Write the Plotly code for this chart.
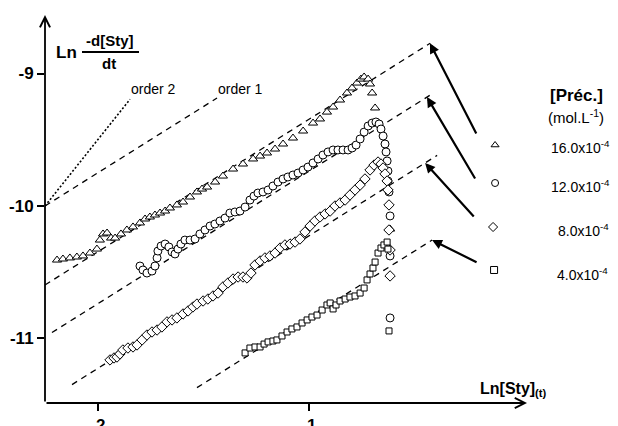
import plotly.graph_objects as go

# ---------------- data ----------------
# 16.0e-4 mol/L  (triangles)
tri_x = [-2.194, -2.166, -2.133, -2.100, -2.071, -2.038, -2.005, -1.991, -1.976, -1.957,
         -1.938, -1.919, -1.891, -1.863, -1.834, -1.801, -1.777, -1.754, -1.730, -1.706,
         -1.682, -1.659, -1.626, -1.597, -1.564, -1.531, -1.507, -1.483, -1.445, -1.408,
         -1.360, -1.313, -1.265, -1.232, -1.199, -1.161, -1.123, -1.076, -1.028, -0.981,
         -0.948, -0.915, -0.886, -0.853, -0.820, -0.796, -0.773, -0.754, -0.739, -0.720,
         -0.711, -0.701, -0.687, -0.616]
tri_y = [-10.408, -10.400, -10.392, -10.385, -10.377, -10.355, -10.325, -10.257, -10.211, -10.204,
         -10.242, -10.242, -10.211, -10.181, -10.158, -10.128, -10.098, -10.083, -10.068, -10.053,
         -10.038, -10.015, -9.992, -9.970, -9.932, -9.894, -9.872, -9.857, -9.819, -9.774,
         -9.721, -9.683, -9.645, -9.623, -9.600, -9.570, -9.532, -9.487, -9.434, -9.374,
         -9.343, -9.291, -9.253, -9.200, -9.147, -9.109, -9.072, -9.042, -9.026, -9.042,
         -9.079, -9.147, -9.260, -10.174]

# 12.0e-4 mol/L  (circles)
cir_x = [-1.801, -1.787, -1.768, -1.744, -1.730, -1.720, -1.716, -1.701, -1.682, -1.664,
         -1.649, -1.635, -1.621, -1.607, -1.588, -1.564, -1.540, -1.517, -1.493, -1.469,
         -1.446, -1.422, -1.398, -1.375, -1.351, -1.327, -1.303, -1.280, -1.261, -1.242,
         -1.218, -1.194, -1.171, -1.147, -1.123, -1.100, -1.076, -1.052, -1.028, -1.005,
         -0.981, -0.957, -0.934, -0.910, -0.886, -0.863, -0.839, -0.815, -0.796, -0.777,
         -0.758, -0.739, -0.720, -0.701, -0.683, -0.668, -0.659, -0.649, -0.640, -0.635,
         -0.630, -0.626, -0.626, -0.621, -0.616, -0.616, -0.616]
cir_y = [-10.453, -10.483, -10.506, -10.491, -10.453, -10.392, -10.340, -10.302, -10.287, -10.309,
         -10.347, -10.362, -10.325, -10.287, -10.257, -10.257, -10.249, -10.211, -10.181, -10.151,
         -10.136, -10.113, -10.091, -10.053, -10.045, -10.038, -10.008, -9.955, -9.925, -9.902,
         -9.894, -9.879, -9.849, -9.819, -9.796, -9.781, -9.766, -9.751, -9.728, -9.706,
         -9.675, -9.645, -9.615, -9.592, -9.577, -9.577, -9.577, -9.577, -9.562, -9.540,
         -9.494, -9.442, -9.396, -9.374, -9.366, -9.381, -9.419, -9.472, -9.532, -9.592,
         -9.660, -9.736, -9.811, -9.894, -10.075, -10.377, -10.845]

# 8.0e-4 mol/L  (diamonds)
dia_x = [-1.943, -1.924, -1.910, -1.896, -1.882, -1.858, -1.834, -1.815, -1.791, -1.768,
         -1.744, -1.720, -1.697, -1.673, -1.649, -1.626, -1.597, -1.573, -1.550, -1.531,
         -1.502, -1.479, -1.455, -1.431, -1.408, -1.384, -1.360, -1.336, -1.313, -1.294,
         -1.275, -1.256, -1.232, -1.209, -1.185, -1.161, -1.137, -1.114, -1.090, -1.066,
         -1.043, -1.019, -0.995, -0.972, -0.948, -0.924, -0.900, -0.877, -0.853, -0.829,
         -0.806, -0.782, -0.758, -0.735, -0.711, -0.692, -0.673, -0.659, -0.649, -0.640,
         -0.630, -0.626, -0.621, -0.621, -0.616, -0.616]
dia_y = [-11.162, -11.147, -11.140, -11.117, -11.087, -11.072, -11.064, -11.049, -11.011, -10.974,
         -10.951, -10.936, -10.913, -10.875, -10.860, -10.845, -10.815, -10.792, -10.762, -10.740,
         -10.717, -10.702, -10.679, -10.657, -10.611, -10.581, -10.551, -10.536, -10.536, -10.543,
         -10.506, -10.445, -10.415, -10.392, -10.377, -10.355, -10.317, -10.294, -10.287, -10.272,
         -10.249, -10.196, -10.151, -10.113, -10.083, -10.060, -10.038, -10.000, -9.977, -9.955,
         -9.917, -9.879, -9.842, -9.796, -9.728, -9.691, -9.668, -9.683, -9.713, -9.758,
         -9.811, -9.879, -9.992, -10.181, -10.332, -10.528]

# 4.0e-4 mol/L  (squares)
sq_x = [-1.303, -1.280, -1.256, -1.232, -1.213, -1.194, -1.171, -1.152, -1.128, -1.104,
        -1.081, -1.057, -1.033, -1.009, -0.986, -0.962, -0.938, -0.915, -0.900, -0.886,
        -0.872, -0.853, -0.829, -0.806, -0.782, -0.758, -0.739, -0.725, -0.711, -0.697,
        -0.687, -0.673, -0.659, -0.645, -0.630, -0.626, -0.621]
sq_y = [-11.109, -11.072, -11.064, -11.064, -11.042, -11.026, -11.019, -11.011, -10.981, -10.951,
        -10.928, -10.913, -10.883, -10.860, -10.838, -10.823, -10.785, -10.747, -10.732, -10.777,
        -10.747, -10.717, -10.702, -10.687, -10.679, -10.657, -10.619, -10.558, -10.513, -10.468,
        -10.423, -10.355, -10.317, -10.294, -10.272, -10.325, -10.943]

# slope-1 fits for each concentration (x start, x end, intercept)
fit_x0 = [-2.251, -2.218, -2.123, -1.531]
fit_x1 = [-0.426, -0.412, -0.393, -0.417]
fit_c = [-8.345, -8.737, -9.225, -9.840]

# reference order lines from (-2.251, -10)
order_x0 = -2.251
order_y0 = -10.0
order1_x1 = -1.436
order2_x1 = -1.848

# arrow tails (pointing at the ends of the fit lines)
arrow_tail_x = [-0.204, -0.209, -0.213, -0.199]
arrow_tail_y = [-9.464, -9.804, -10.091, -10.430]
arrow_head_x = [-0.427, -0.441, -0.450, -0.417]

conc_labels = ["16.0", "12.0", "8.0", "4.0"]
x_ticks = [-2, -1]
x_ticktext = ["-2", "-1"]
y_ticks = [-9, -10, -11]
y_ticktext = ["-9", "-10", "-11"]

# ---------------- figure ----------------
W, H = 618, 426
ML, MB = 45, 23
PW, PH = W - ML, H - MB
FONT = "Liberation Sans, Arial, sans-serif"


def P(px, py):
    return (px - ML) / PW, (PH - py) / PH


fig = go.Figure()

for x0, x1, c in zip(fit_x0, fit_x1, fit_c):
    fig.add_trace(go.Scatter(x=[x0, x1], y=[x0 + c, x1 + c], mode="lines",
                             line=dict(color="black", width=1.3, dash="6px,5px"),
                             hoverinfo="skip", cliponaxis=False))

fig.add_trace(go.Scatter(x=[order_x0, order1_x1],
                         y=[order_y0, order_y0 + (order1_x1 - order_x0)], cliponaxis=False,
                         mode="lines", line=dict(color="black", width=1.3, dash="6px,5px")))
fig.add_trace(go.Scatter(x=[order_x0, order2_x1],
                         y=[order_y0, order_y0 + 2 * (order2_x1 - order_x0)], cliponaxis=False,
                         mode="lines", line=dict(color="black", width=1.6, dash="2px,2px")))

series = [
    (tri_x, tri_y, "triangle-up", 8),
    (cir_x, cir_y, "circle", 8),
    (dia_x, dia_y, "diamond", 8),
    (sq_x, sq_y, "square", 6),
]
for xs, ys, sym, sz in series:
    fig.add_trace(go.Scatter(x=xs, y=ys, mode="markers",
                             marker=dict(symbol=sym, size=sz, color="white",
                                         line=dict(color="black", width=1))))

# legend symbols (manual)
leg_px = [(495, 145), (495, 183), (493, 227), (494, 270)]
for (px, py), (_, _, sym, sz) in zip(leg_px, series):
    fig.add_trace(go.Scatter(x=[-2 + (px - 98) / 211], y=[-9 - (py - 73.5) / 132.5],
                             mode="markers",
                             marker=dict(symbol=sym, size=7, color="white",
                                         line=dict(color="black", width=1))))

ann = []


def text(px, py, s, size=14, bold=False, anchor="center"):
    x, y = P(px, py)
    ann.append(dict(x=x, y=y, xref="paper", yref="paper", text=("<b>%s</b>" % s) if bold else s,
                    showarrow=False, xanchor=anchor, yanchor="middle",
                    font=dict(family=FONT, size=size, color="black")))


# y title (fraction)
text(66, 52, "Ln", 17, True)
text(110, 41, "-d[Sty]", 15, True)
text(109, 63, "dt", 15, True)
text(153, 89, "order 2", 14)
text(240, 89, "order 1", 14)
text(576, 95, "[Préc.]", 17, True)
text(576, 117, "(mol.L<sup>-1</sup>)", 15)
leg_text_px = [(549, 147), (549, 186), (556, 230), (555, 274)]
for (px, py), lab in zip(leg_text_px, conc_labels):
    text(px, py, lab + "x10<sup>-4</sup>", 14, anchor="left")
text(513, 389, "Ln[Sty]<sub>(t)</sub>", 16, True)

# axes with arrows
tx, ty = P(ML, 15)
ann.append(dict(x=0, y=ty, xref="paper", yref="paper", ax=0, ay=(PH - 15), axref="pixel",
                ayref="pixel", text="", showarrow=True, arrowhead=5, arrowsize=1.1,
                arrowwidth=1.8, arrowcolor="black", standoff=0, startstandoff=0))
ex, _ = P(527, PH)
ann.append(dict(x=ex, y=0, xref="paper", yref="paper", ax=-(527 - ML), ay=0, axref="pixel",
                ayref="pixel", text="", showarrow=True, arrowhead=5, arrowsize=1.1,
                arrowwidth=1.8, arrowcolor="black", standoff=0, startstandoff=0))

# pointer arrows to fit-line ends
for hx, c, tx_, ty_ in zip(arrow_head_x, fit_c, arrow_tail_x, arrow_tail_y):
    ann.append(dict(x=hx, y=hx + c, xref="x", yref="y", ax=tx_, ay=ty_, axref="x", ayref="y",
                    text="", showarrow=True, arrowhead=2, arrowsize=0.9, arrowwidth=2.2,
                    arrowcolor="black", standoff=0, startstandoff=0))

fx0, fy = P(82, 52)
fx1, _ = P(139, 52)
shapes = [dict(type="line", xref="paper", yref="paper", x0=fx0, x1=fx1, y0=fy, y1=fy,
               line=dict(color="black", width=2))]

fig.update_layout(
    width=W, height=H, margin=dict(l=ML, r=0, t=0, b=MB),
    paper_bgcolor="white", plot_bgcolor="white", showlegend=False,
    annotations=ann, shapes=shapes,
    xaxis=dict(range=[-2.251, 0.464], showgrid=False, zeroline=False, showline=False,
               automargin=False,
               tickvals=x_ticks, ticktext=["<b>%s</b>" % t for t in x_ticktext],
               ticks="outside", ticklen=7, tickwidth=1.5, tickcolor="black",
               ticklabelstandoff=0,
               tickfont=dict(family=FONT, size=17, color="black")),
    yaxis=dict(range=[-11.487, -8.445], showgrid=False, zeroline=False, showline=False,
               automargin=False,
               tickvals=y_ticks, ticktext=["<b>%s</b>" % t for t in y_ticktext],
               ticks="outside", ticklen=7, tickwidth=1.5, tickcolor="black",
               tickfont=dict(family=FONT, size=17, color="black")),
)

fig.write_html("out.html", config={"displayModeBar": False},
               post_script="document.body.style.margin='0';")
